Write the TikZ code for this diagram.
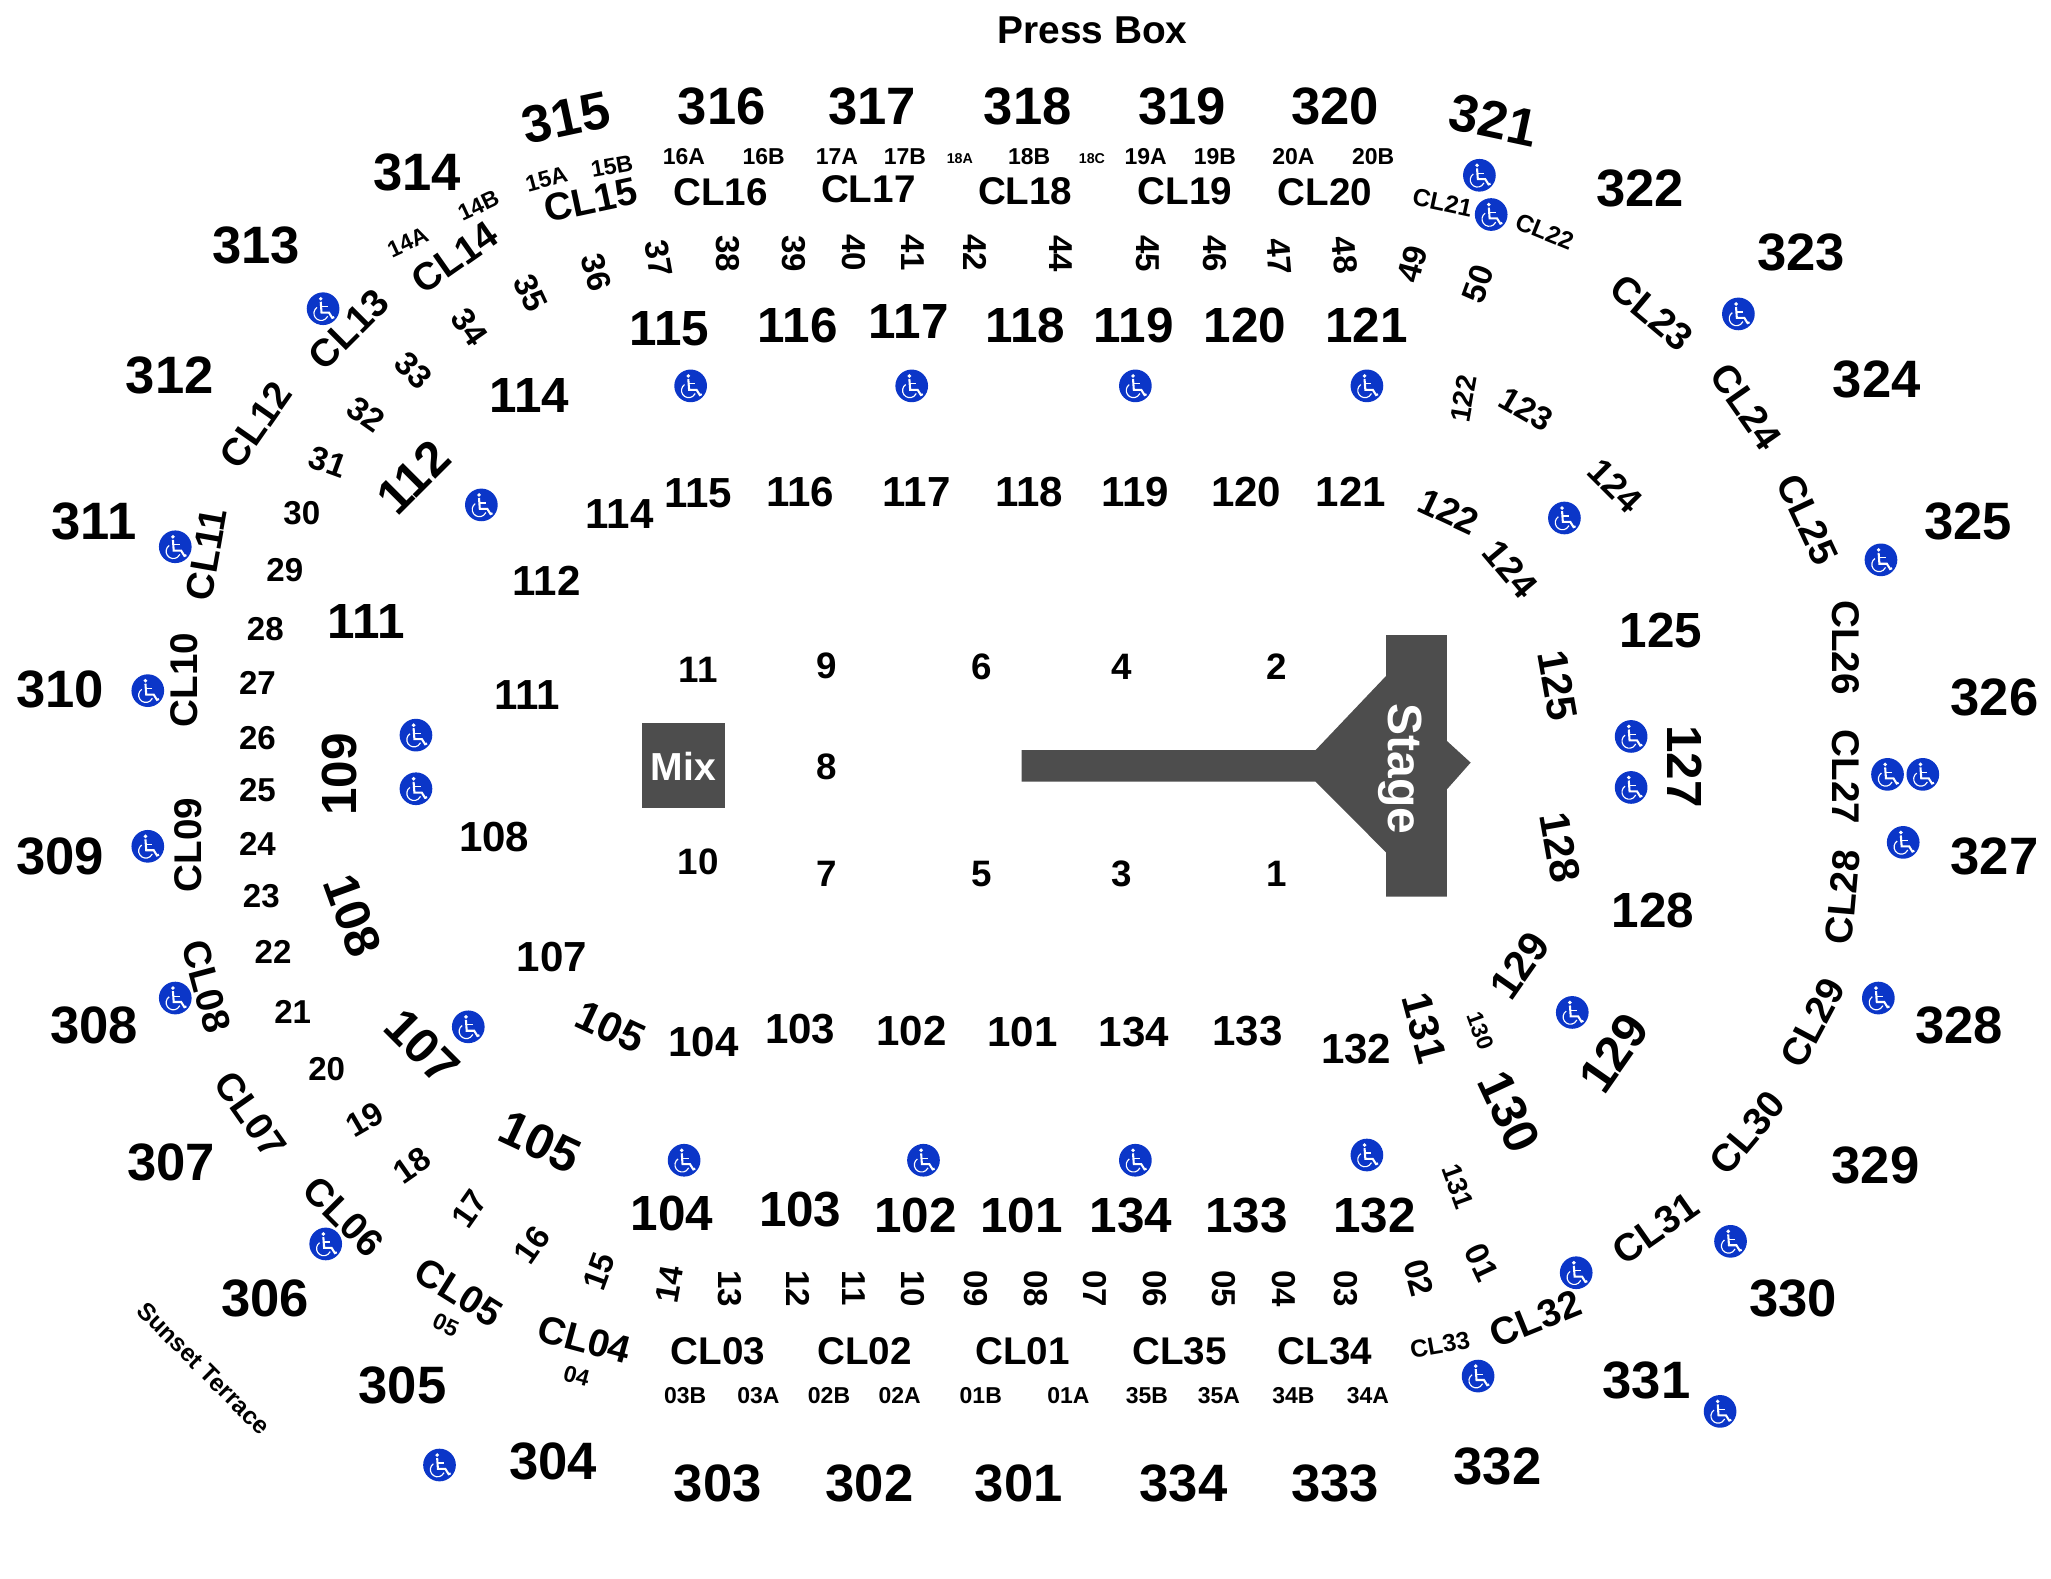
\documentclass[tikz,border=0pt]{standalone}
\usepackage{fontspec}
\setmainfont{Liberation Sans}
\definecolor{stagegray}{HTML}{4D4D4D}
\definecolor{accessblue}{HTML}{0B36C8}
\tikzset{
  lbl/.style={inner sep=0pt,outer sep=0pt,text=black,xshift=0.016cm},
  upper/.style={lbl,font=\bfseries\fontsize{22.9}{24}\selectfont},
  mid/.style={lbl,font=\bfseries\fontsize{21.5}{23}\selectfont},
  low/.style={lbl,font=\bfseries\fontsize{18.3}{20}\selectfont},
  club/.style={lbl,font=\bfseries\fontsize{16.8}{18}\selectfont},
  seat/.style={lbl,font=\bfseries\fontsize{14.4}{16}\selectfont},
  pit/.style={lbl,font=\bfseries\fontsize{16}{18}\selectfont},
  sub/.style={lbl,font=\bfseries\fontsize{10}{12}\selectfont},
  tiny/.style={lbl,font=\bfseries\fontsize{6.2}{8}\selectfont},
  access/.style={circle,fill=accessblue,inner sep=0pt,minimum size=0.5cm,
    path picture={
      \begin{scope}[shift={(path picture bounding box.center)},white,line width=0.5pt]
      \fill (-1.8,-7.6) circle (1.5);
      \draw[line width=0.9pt] (-1.8,-5.3) -- (-1.2,3) -- (4.5,3) -- (7,7) -- (8.5,6.4);
      \draw (-1.6,-1.5) -- (3.5,-1.5);
      \draw (-4.65,-1) arc (235:25:5.5);
      \end{scope}}},
}
\begin{document}
\begin{tikzpicture}[x=0.02cm,y=-0.02cm]
      \useasboundingbox (0,0) rectangle (1568,1206.4);
      \node[low,font=\bfseries\fontsize{16.9}{18}\selectfont](press) at (834.5,23) {Press Box};
      \node[lbl,font=\bfseries\fontsize{10.7}{13}\selectfont,rotate=-45](sunset) at (155,1046) {Sunset Terrace};
      % stage and mix
      \fill[stagegray] (781,573.4) -- (1005.8,573.4) -- (1059.6,516.8) -- (1059.6,485.5) -- (1106.2,485.5)
        -- (1106.2,566.5) -- (1124.3,583) -- (1106.2,603.4) -- (1106.2,685.5) -- (1059.6,685.5)
        -- (1059.6,651.6) -- (1005.8,597.6) -- (781,597.6) -- cycle;
      \node[lbl,text=white,font=\bfseries\fontsize{20.9}{22}\selectfont,rotate=-90](stage) at (1070,588) {Stage};
      \node[fill=stagegray,minimum width=1.26cm,minimum height=1.3cm,inner sep=0pt,text=white,font=\bfseries\fontsize{17}{19}\selectfont](mix) at (522.5,585.5) {Mix};
      % pit
      \node[pit](f11) at (533,512) {11};
      \node[pit](f9) at (631,509) {9};
      \node[pit](f6) at (750,510) {6};
      \node[pit](f4) at (857,510) {4};
      \node[pit](f2) at (975,510) {2};
      \node[pit](f8) at (631,586) {8};
      \node[pit](f10) at (533,659) {10};
      \node[pit](f7) at (631,668) {7};
      \node[pit](f5) at (750,668) {5};
      \node[pit](f3) at (857,668) {3};
      \node[pit](f1) at (975,668) {1};
      % upper sections
      \node[upper,rotate=12](u315) at (432,90) {315};
      \node[upper](u316) at (551,81) {316};
      \node[upper](u317) at (666,81) {317};
      \node[upper](u318) at (785,81) {318};
      \node[upper](u319) at (903,81) {319};
      \node[upper](u320) at (1020,81) {320};
      \node[upper,rotate=-12](u321) at (1141,92) {321};
      \node[upper](u322) at (1253,144) {322};
      \node[upper](u323) at (1376,193) {323};
      \node[upper](u324) at (1434,290) {324};
      \node[upper](u325) at (1504,399) {325};
      \node[upper](u326) at (1524,533) {326};
      \node[upper](u327) at (1524,655) {327};
      \node[upper](u328) at (1497,784) {328};
      \node[upper](u329) at (1433,891) {329};
      \node[upper](u330) at (1370,993) {330};
      \node[upper](u331) at (1258,1055) {331};
      \node[upper](u332) at (1144,1121) {332};
      \node[upper](u333) at (1020,1134) {333};
      \node[upper](u334) at (904,1134) {334};
      \node[upper](u301) at (778,1134) {301};
      \node[upper](u302) at (664,1134) {302};
      \node[upper](u303) at (548,1134) {303};
      \node[upper](u304) at (422,1117) {304};
      \node[upper](u305) at (307,1059) {305};
      \node[upper](u306) at (202,993) {306};
      \node[upper](u307) at (130,889) {307};
      \node[upper](u308) at (71,784) {308};
      \node[upper](u309) at (45,655) {309};
      \node[upper](u310) at (45,527) {310};
      \node[upper](u311) at (71,399) {311};
      \node[upper](u312) at (129,287) {312};
      \node[upper](u313) at (195,188) {313};
      \node[upper](u314) at (318,132) {314};
      % club boxes
      \node[club,rotate=12](cl15) at (451,153) {CL15};
      \node[club](cl16) at (550,147) {CL16};
      \node[club](cl17) at (663,145) {CL17};
      \node[club](cl18) at (783,146) {CL18};
      \node[club](cl19) at (905,146) {CL19};
      \node[club](cl20) at (1012,147) {CL20};
      \node[sub,rotate=-12,font=\bfseries\fontsize{10.7}{12}\selectfont](cl21) at (1102,155) {CL21};
      \node[sub,rotate=-22,font=\bfseries\fontsize{10.7}{12}\selectfont](cl22) at (1180,177) {CL22};
      \node[club,rotate=-40](cl23) at (1262,239) {CL23};
      \node[club,rotate=-55](cl24) at (1334,311) {CL24};
      \node[club,rotate=-65](cl25) at (1381,397) {CL25};
      \node[club,rotate=-90](cl26) at (1410,495) {CL26};
      \node[club,rotate=-90](cl27) at (1410,594) {CL27};
      \node[club,rotate=85](cl28) at (1408,686) {CL28};
      \node[club,rotate=62](cl29) at (1385,782) {CL29};
      \node[club,rotate=50](cl30) at (1335,866) {CL30};
      \node[club,rotate=35](cl31) at (1265,939) {CL31};
      \node[club,rotate=22](cl32) at (1173,1008) {CL32};
      \node[sub,rotate=10,font=\bfseries\fontsize{10.7}{12}\selectfont](cl33) at (1100,1028) {CL33};
      \node[club](cl34) at (1012,1033) {CL34};
      \node[club](cl35) at (901,1033) {CL35};
      \node[club](cl01) at (781,1033) {CL01};
      \node[club](cl02) at (660,1033) {CL02};
      \node[club](cl03) at (548,1033) {CL03};
      \node[club,rotate=-15](cl04) at (446,1024) {CL04};
      \node[club,rotate=-32](cl05) at (350,988) {CL05};
      \node[club,rotate=-45](cl06) at (262,930) {CL06};
      \node[club,rotate=-55](cl07) at (191,852) {CL07};
      \node[club,rotate=-75](cl08) at (157,754) {CL08};
      \node[club,rotate=90](cl09) at (143,646) {CL09};
      \node[club,rotate=90](cl10) at (140,520) {CL10};
      \node[club,rotate=80](cl11) at (157,424) {CL11};
      \node[club,rotate=55](cl12) at (195,325) {CL12};
      \node[club,rotate=45](cl13) at (266,252) {CL13};
      \node[club,rotate=35](cl14) at (347,197) {CL14};
      % club sub boxes
      \node[sub,rotate=25](b14a) at (311,185) {14A};
      \node[sub,rotate=25](b14b) at (365,157) {14B};
      \node[sub,rotate=15](b15a) at (417,137) {15A};
      \node[sub,rotate=10](b15b) at (467,127) {15B};
      \node[sub](b16a) at (522,120) {16A};
      \node[sub](b16b) at (583,120) {16B};
      \node[sub](b17a) at (639,120) {17A};
      \node[sub](b17b) at (691,120) {17B};
      \node[tiny](b18a) at (733,121) {18A};
      \node[sub](b18b) at (786,120) {18B};
      \node[tiny](b18c) at (834,121) {18C};
      \node[sub](b19a) at (875,120) {19A};
      \node[sub](b19b) at (928,120) {19B};
      \node[sub](b20a) at (988,120) {20A};
      \node[sub](b20b) at (1049,120) {20B};
      \node[sub](b03b) at (523,1067) {03B};
      \node[sub](b03a) at (579,1067) {03A};
      \node[sub](b02b) at (633,1067) {02B};
      \node[sub](b02a) at (687,1067) {02A};
      \node[sub](b01b) at (749,1067) {01B};
      \node[sub](b01a) at (816,1067) {01A};
      \node[sub](b35b) at (876,1067) {35B};
      \node[sub](b35a) at (931,1067) {35A};
      \node[sub](b34b) at (988,1067) {34B};
      \node[sub](b34a) at (1045,1067) {34A};
      \node[sub,rotate=-25](b05) at (340,1013) {05};
      \node[sub,rotate=-15](b04) at (440,1052) {04};
      % seat rows
      \node[seat,rotate=-80](r37) at (503,198) {37};
      \node[seat,rotate=-90](r38) at (556,194) {38};
      \node[seat,rotate=-90](r39) at (606,194) {39};
      \node[seat,rotate=-90](r40) at (652,193) {40};
      \node[seat,rotate=-90](r41) at (697,193) {41};
      \node[seat,rotate=-90](r42) at (745,193) {42};
      \node[seat,rotate=-90](r44) at (810,194) {44};
      \node[seat,rotate=-90](r45) at (877,194) {45};
      \node[seat,rotate=-90](r46) at (928,194) {46};
      \node[seat,rotate=-85](r47) at (977,196) {47};
      \node[seat,rotate=-85](r48) at (1027,195) {48};
      \node[seat,rotate=75](r49) at (1079,202) {49};
      \node[seat,rotate=70](r50) at (1129,217) {50};
      \node[seat,rotate=-75](r36) at (455,208) {36};
      \node[seat,rotate=-65](r35) at (405,224) {35};
      \node[seat,rotate=-55](r34) at (358,250) {34};
      \node[seat,rotate=-45](r33) at (315,283) {33};
      \node[seat,rotate=-35](r32) at (279,317) {32};
      \node[seat,rotate=-20](r31) at (250,353) {31};
      \node[seat](r30) at (230,392) {30};
      \node[seat](r29) at (217,436) {29};
      \node[seat](r28) at (202,481) {28};
      \node[seat](r27) at (196,522) {27};
      \node[seat](r26) at (196,564) {26};
      \node[seat](r25) at (196,604) {25};
      \node[seat](r24) at (196,645) {24};
      \node[seat](r23) at (199,685) {23};
      \node[seat](r22) at (208,728) {22};
      \node[seat](r21) at (223,774) {21};
      \node[seat](r20) at (249,817) {20};
      \node[seat,rotate=30](r19) at (278,856) {19};
      \node[seat,rotate=35](r18) at (314,891) {18};
      \node[seat,rotate=55](r17) at (358,924) {17};
      \node[seat,rotate=55](r16) at (406,952) {16};
      \node[seat,rotate=70](r15) at (457,972) {15};
      \node[seat,rotate=80](r14) at (511,982) {14};
      \node[seat,rotate=-90](r13) at (557,985) {13};
      \node[seat,rotate=-90](r12) at (609,985) {12};
      \node[seat,rotate=-90](r11) at (652,985) {11};
      \node[seat,rotate=-90](r10) at (697,985) {10};
      \node[seat,rotate=-90](r09) at (745,985) {09};
      \node[seat,rotate=-90](r08) at (791,985) {08};
      \node[seat,rotate=-90](r07) at (836,985) {07};
      \node[seat,rotate=-90](r06) at (882,985) {06};
      \node[seat,rotate=-90](r05) at (935,985) {05};
      \node[seat,rotate=-90](r04) at (981,985) {04};
      \node[seat,rotate=-90](r03) at (1028,985) {03};
      \node[seat,rotate=-75](r02) at (1084,977) {02};
      \node[seat,rotate=-65](r01) at (1132,965) {01};
      % middle sections
      \node[mid](m115) at (511,251) {115};
      \node[mid](m116) at (609,249) {116};
      \node[mid](m117) at (694,246) {117};
      \node[mid](m118) at (783,249) {118};
      \node[mid](m119) at (866,249) {119};
      \node[mid](m120) at (951,249) {120};
      \node[mid](m121) at (1044,249) {121};
      \node[mid](m114) at (404,302) {114};
      \node[mid,rotate=45](m112) at (315,365) {112};
      \node[mid](m111) at (279,475) {111};
      \node[mid,rotate=90](m109) at (259,592) {109};
      \node[mid,rotate=-70](m108) at (269,700) {108};
      \node[mid,rotate=-45](m107) at (322,800) {107};
      \node[mid,rotate=-25](m105) at (412,873) {105};
      \node[mid](m104) at (513,928) {104};
      \node[mid](m103) at (611,925) {103};
      \node[mid](m102) at (699,929) {102};
      \node[mid](m101) at (780,929) {101};
      \node[mid](m134) at (864,929) {134};
      \node[mid](m133) at (952,929) {133};
      \node[mid](m132) at (1050,929) {132};
      \node[mid,rotate=-65](m130) at (1153,850) {130};
      \node[mid,rotate=55](m129) at (1233,805) {129};
      \node[mid](m128) at (1263,696) {128};
      \node[mid](m125) at (1269,482) {125};
      \node[mid,rotate=-90](m127) at (1287,586) {127};
      % lower sections
      \node[low](l115) at (533,377) {115};
      \node[low](l116) at (611,376) {116};
      \node[low](l117) at (700,376) {117};
      \node[low](l118) at (786,376) {118};
      \node[low](l119) at (867,376) {119};
      \node[low](l120) at (952,376) {120};
      \node[low](l121) at (1032,376) {121};
      \node[low](l114) at (473,393) {114};
      \node[low](l112) at (417,444) {112};
      \node[low](l111) at (402,531) {111};
      \node[low](l108) at (377,640) {108};
      \node[low](l107) at (421,732) {107};
      \node[low,rotate=-25](l105) at (466,785) {105};
      \node[low](l104) at (537,797) {104};
      \node[low](l103) at (611,787) {103};
      \node[low](l102) at (696,788) {102};
      \node[low](l101) at (781,789) {101};
      \node[low](l134) at (866,789) {134};
      \node[low](l133) at (953,788) {133};
      \node[low](l132) at (1036,802) {132};
      \node[lbl,font=\bfseries\fontsize{12.3}{14}\selectfont,rotate=80](a122) at (1118,305) {122};
      \node[seat,rotate=-30](a123) at (1166,313) {123};
      \node[lbl,font=\bfseries\fontsize{15.5}{17}\selectfont,rotate=-45](a124) at (1234,371) {124};
      \node[pit,rotate=-50](l124) at (1154,435) {124};
      \node[pit,rotate=-25](l122) at (1107,391) {122};
      \node[lbl,font=\bfseries\fontsize{12}{14}\selectfont,rotate=-70](a131) at (1114,907) {131};
      \node[low,rotate=-75](l131) at (1088,786) {131};
      \node[sub,rotate=-70](a130) at (1131,788) {130};
      \node[low,rotate=55](l129) at (1161,738) {129};
      \node[low,rotate=-80](l128) at (1192,648) {128};
      \node[low,rotate=-80](l125) at (1190,524) {125};
      % accessible seating
      \node[access](w1) at (247,236) {};
      \node[access](w2) at (528,295) {};
      \node[access](w3) at (697,295) {};
      \node[access](w4) at (868,295) {};
      \node[access](w5) at (1045,295) {};
      \node[access](w6) at (1131,134) {};
      \node[access](w7) at (1140,164) {};
      \node[access](w8) at (1329,240) {};
      \node[access](w9) at (1196,396) {};
      \node[access](w10) at (1438,428) {};
      \node[access](w11) at (368,386) {};
      \node[access](w12) at (134,418) {};
      \node[access](w13) at (113,528) {};
      \node[access](w14) at (318,562) {};
      \node[access](w15) at (318,603) {};
      \node[access](w16) at (1247,563) {};
      \node[access](w17) at (1247,602) {};
      \node[access](w18) at (1443,592) {};
      \node[access](w19) at (1470,592) {};
      \node[access](w20) at (1455,644) {};
      \node[access](w21) at (113,647) {};
      \node[access](w22) at (134,763) {};
      \node[access](w23) at (358,785) {};
      \node[access](w24) at (1202,774) {};
      \node[access](w25) at (1436,763) {};
      \node[access](w26) at (523,887) {};
      \node[access](w27) at (706,887) {};
      \node[access](w28) at (868,887) {};
      \node[access](w29) at (1045,883) {};
      \node[access](w30) at (1323,949) {};
      \node[access](w31) at (1205,973) {};
      \node[access](w32) at (249,951) {};
      \node[access](w33) at (1130,1052) {};
      \node[access](w34) at (1315,1079) {};
      \node[access](w35) at (336,1120) {};
    \end{tikzpicture}
\end{document}
